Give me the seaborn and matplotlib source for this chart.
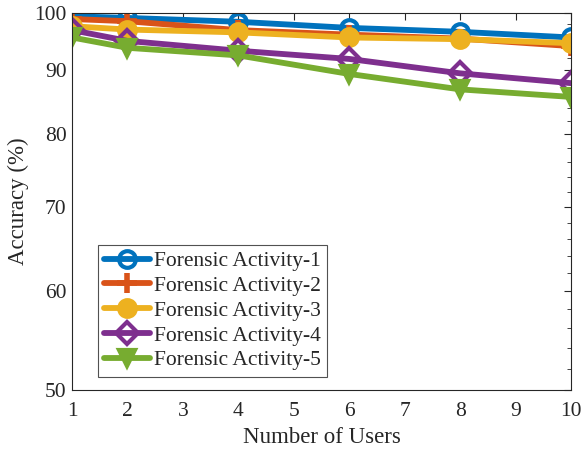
import matplotlib
matplotlib.use("Agg")
import matplotlib.pyplot as plt
import seaborn as sns
import pandas as pd
from matplotlib.ticker import FixedLocator, NullFormatter, FixedFormatter

users = [1, 2, 4, 6, 8, 10]
act1 = [99.4, 99.1, 98.4, 97.3, 96.6, 95.6]
act2 = [98.9, 98.5, 96.9, 96.1, 95.4, 94.1]
act3 = [97.6, 97.0, 96.5, 95.6, 95.3, 94.6]
act4 = [96.9, 95.0, 93.3, 91.9, 89.5, 87.9]
act5 = [95.6, 93.8, 92.5, 89.4, 86.9, 85.7]
names = ["Forensic Activity-1", "Forensic Activity-2", "Forensic Activity-3",
         "Forensic Activity-4", "Forensic Activity-5"]
yticks = [50, 60, 70, 80, 90, 100]

sns.set_style("white")
plt.rcParams['font.family'] = ['Liberation Serif', 'DejaVu Serif']
plt.rcParams['mathtext.fontset'] = 'stix'

colors = ["#0072BD", "#D95319", "#EDB120", "#7E2F8E", "#77AC30"]
markers = ["o", "+", "o", "D", "v"]
hollow = [True, False, False, True, False]
msizes = [12, 14, 12, 11, 12]

fig = plt.figure(figsize=(5.81, 4.53), dpi=100)
ax = fig.add_axes([72/581, 1-390/453, (571-72)/581, (390-13)/453])

series = [act1, act2, act3, act4, act5]
for vals, name, c, m, h, ms in zip(series, names, colors, markers, hollow, msizes):
    df = pd.DataFrame({"x": users, "y": vals})
    sns.lineplot(data=df, x="x", y="y", ax=ax, color=c, linewidth=4.2,
                 linestyle="-", label=name, marker=m, markersize=ms,
                 markeredgewidth=3 if m != "+" else 4, markeredgecolor=c,
                 markerfacecolor=("none" if h else c))

ax.set_yscale("log")
ax.set_xlim(1, 10)
ax.set_ylim(50, 100)
ax.yaxis.set_major_locator(FixedLocator(yticks))
ax.yaxis.set_major_formatter(FixedFormatter([str(t) for t in yticks]))
ax.yaxis.set_minor_locator(FixedLocator([v for v in range(52, 100, 2) if v % 10 != 0]))
ax.yaxis.set_minor_formatter(NullFormatter())
ax.set_xticks(range(1, 11))

for s in ax.spines.values():
    s.set_color("#262626")
    s.set_linewidth(0.8)
ax.tick_params(which="both", direction="in", top=True, right=True, color="#262626",
               labelsize=15.5, labelcolor="#262626")
ax.tick_params(axis="x", pad=9)
ax.tick_params(axis="y", pad=4)
ax.tick_params(which="major", length=5)
ax.tick_params(which="minor", length=3)
ax.set_xlabel("Number of Users", fontsize=16.5, color="#262626", labelpad=4)
ax.set_ylabel("Accuracy (%)", fontsize=16.5, color="#262626", labelpad=4)

leg = ax.legend(loc="lower left", bbox_to_anchor=(0.052, 0.035), fontsize=15.5,
                frameon=True, fancybox=False, edgecolor="#262626",
                handlelength=2.1, borderpad=0.3, labelspacing=0.22,
                handletextpad=0.2, borderaxespad=0)
leg.get_frame().set_linewidth(0.8)

fig.savefig("out.png", dpi=100)
